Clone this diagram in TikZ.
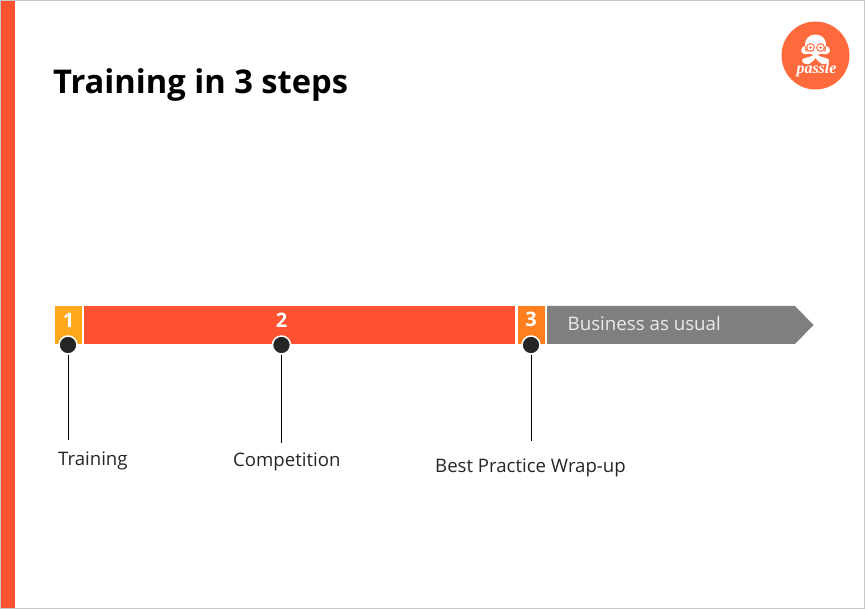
\documentclass[tikz,border=0pt]{standalone}
\usepackage{fontspec}
\setmainfont{Open Sans}
\newfontfamily\logofont{Liberation Serif}
\definecolor{accent}{HTML}{FF5233}
\definecolor{amber}{HTML}{FFA81C}
\definecolor{tang}{HTML}{FF7F1F}
\definecolor{slate}{HTML}{7F7F7F}
\definecolor{ink}{HTML}{262626}
\definecolor{logoc}{HTML}{FF6A3D}
\definecolor{frame}{HTML}{C8C8C8}
\tikzset{
  x=1pt,y=-1pt,
  segbox/.style={fill=#1,draw=none,inner sep=0pt,anchor=north west,minimum height=38pt},
  numtext/.style={text=white,font=\fontsize{20}{22}\selectfont\bfseries,inner sep=0pt},
  dotmark/.style={circle,fill=ink,draw=white,line width=1.5pt,minimum size=18pt,inner sep=0pt},
  lbl/.style={text=black!85,font=\fontsize{18.6}{22}\selectfont,inner sep=0pt},
  stem/.style={draw=black,line width=1pt},
}
\begin{document}
\begin{tikzpicture}
\useasboundingbox (0,0) rectangle (865,609);
\fill[white] (0,0) rectangle (865,609);
\draw[frame,line width=1pt] (0.5,0.5) rectangle (864.5,608.5);
\fill[accent] (1,1) rectangle (15,608);
\node[anchor=base west,inner sep=0pt,font=\fontsize{32.7}{38}\selectfont\bfseries] (title) at (53,94) {Training in 3 steps};
% logo
\node[circle,fill=logoc,minimum size=68pt,inner sep=0pt] (logo) at (815.5,55.5) {};
\begin{scope}[white]
  \fill (815.5,44) ellipse (10.5 and 9.5);
  \fill (815.5,50) ellipse (9 and 5);
  \fill[logoc] (810.5,47.5) circle (4.4);
  \fill[logoc] (820.5,47.5) circle (4.4);
  \fill (810.5,47.5) circle (3.2);
  \fill (820.5,47.5) circle (3.2);
  \fill[logoc] (810.5,47.5) circle (1.4);
  \fill[logoc] (820.5,47.5) circle (1.4);
  \fill (815.5,54) .. controls (810,58) and (804,57) .. (802,60) .. controls (802,63) and (806,65) .. (809,64) .. controls (811,63) and (814,60) .. (815.5,58) .. controls (817,60) and (820,63) .. (822,64) .. controls (825,65) and (829,63) .. (829,60) .. controls (827,57) and (821,58) .. (815.5,54) -- cycle;
  \fill (805,46) .. controls (800,47) and (800,53) .. (804,54) .. controls (806,55) and (809,54) .. (810,53) .. controls (806,53) and (804,50) .. (805,46) -- cycle;
  \fill (826,46) .. controls (831,47) and (831,53) .. (827,54) .. controls (825,55) and (822,54) .. (821,53) .. controls (825,53) and (827,50) .. (826,46) -- cycle;
\end{scope}
\node[text=white,inner sep=0pt,font=\logofont\fontsize{16}{18}\selectfont\bfseries\itshape] (logotext) at (816.5,70) {passle};
% bar
\node[segbox=amber,minimum width=27pt] (s1) at (55,306) {};
\node[segbox=accent,minimum width=431pt] (s2) at (84,306) {};
\node[segbox=tang,minimum width=27pt] (s3) at (518,306) {};
\fill[slate] (547,306) -- (795,306) -- (813.5,325) -- (795,344) -- (547,344) -- cycle;
\node[numtext] (n1) at (68.5,320) {1};
\node[numtext] (n2) at (281.5,320) {2};
\node[numtext] (n3) at (531,319.5) {3};
\node[anchor=base west,inner sep=0pt,text=white!92!black,font=\fontsize{18.7}{22}\selectfont] (bau) at (567.5,331) {Business as usual};
% markers
\node[dotmark] (d1) at (68,345) {};
\node[dotmark] (d2) at (281.5,345) {};
\node[dotmark] (d3) at (531,345) {};
\coordinate (e1) at (68,440);
\coordinate (e2) at (281.5,443);
\coordinate (e3) at (531,441);
\draw[stem] (d1) -- (e1);
\draw[stem] (d2) -- (e2);
\draw[stem] (d3) -- (e3);
\node[lbl,anchor=base west] (t1) at (58,465) {Training};
\node[lbl,anchor=base west] (t2) at (233,467) {Competition};
\node[lbl,anchor=base west] (t3) at (435,472) {Best Practice Wrap-up};
\end{tikzpicture}
\end{document}
